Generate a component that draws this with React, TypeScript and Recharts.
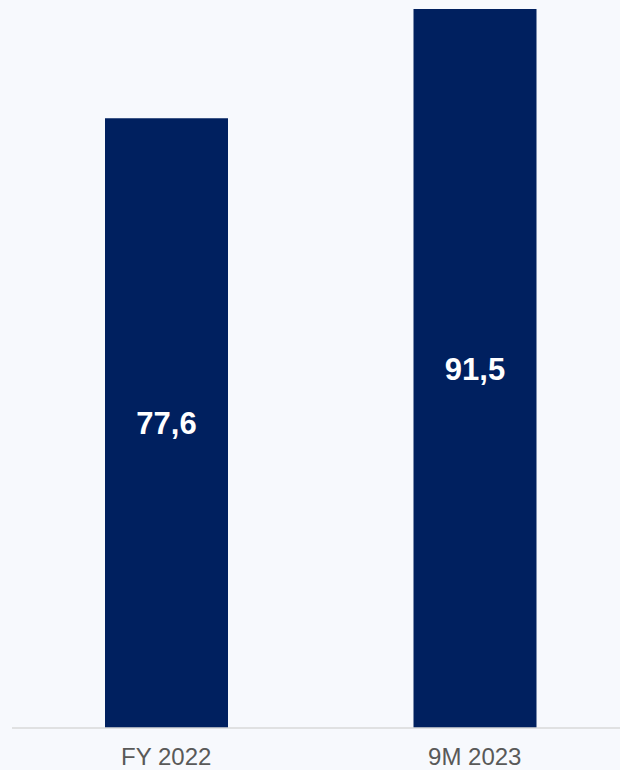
import React from 'react'
import { BarChart, Bar, XAxis, YAxis, LabelList } from 'recharts'

const periods = ['FY 2022', '9M 2023']
const amounts = [77.6, 91.5]

const data = periods.map((period, i) => ({ period, value: amounts[i] }))

const formatComma = (v: number) => v.toFixed(1).replace('.', ',')

export default function App() {
  return (
    <div
      style={{
        position: 'fixed',
        top: 0,
        left: 0,
        width: 620,
        height: 770,
        overflow: 'hidden',
        background: '#F7F9FD',
        fontFamily: '"Liberation Sans", Arial, sans-serif',
      }}
    >
      <BarChart width={629} height={770} data={data} margin={{ top: 9, right: 0, left: 12, bottom: 0 }}>
        <XAxis
          dataKey="period"
          height={42}
          axisLine={{ stroke: '#D9D9D9', strokeWidth: 1.5 }}
          tickLine={false}
          tickSize={0}
          tickMargin={20}
          tick={{ fill: '#595959', fontSize: 24, fontFamily: '"Liberation Sans", Arial, sans-serif' }}
        />
        <YAxis hide domain={[0, 91.5]} />
        <Bar dataKey="value" fill="#00205F" barSize={123} isAnimationActive={false}>
          <LabelList
            dataKey="value"
            position="center"
            formatter={(v: any) => formatComma(Number(v))}
            fill="#FFFFFF"
            style={{ fontSize: 31, fontWeight: 700, fontFamily: '"Liberation Sans", Arial, sans-serif' }}
          />
        </Bar>
      </BarChart>
    </div>
  )
}
